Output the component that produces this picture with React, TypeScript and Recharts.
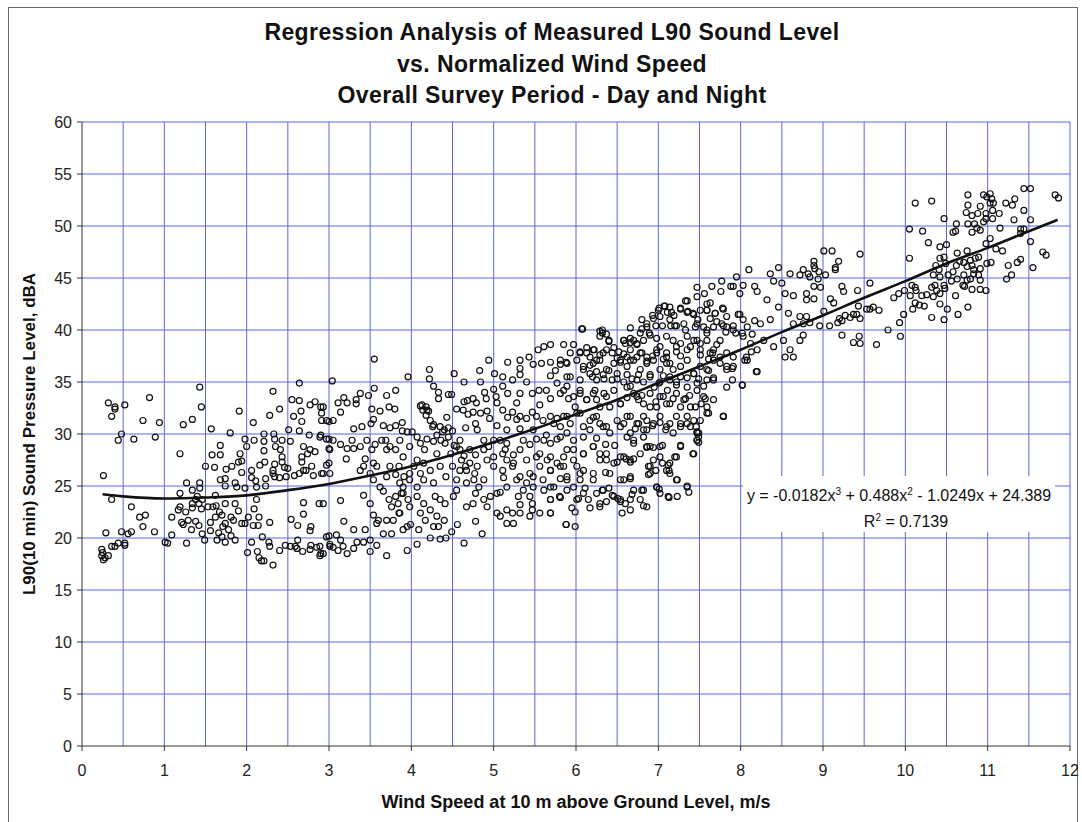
import {
  CartesianGrid,
  ComposedChart,
  Line,
  Scatter,
  XAxis,
  YAxis,
} from "recharts";

// measured L90 points, [wind speed m/s, dBA] in bands
const lowWindPts: [number, number][] = [
  [0.32,33.0],[0.40,32.6],[0.40,32.4],[0.52,32.8],[0.36,31.7],[0.82,33.5],[1.43,34.5],[1.45,32.6],[0.74,31.3],[0.94,31.1],
  [1.23,30.9],[1.34,31.4],[0.48,30.0],[0.44,29.4],[0.63,29.5],[0.89,29.7],[1.19,28.1],[1.57,30.5],[1.91,32.2],[2.08,31.1],
  [2.32,34.1],[2.28,31.8],[2.40,32.4],[2.64,34.9],[2.55,33.3],[2.64,33.2],[2.77,32.8],[2.83,33.1],[2.90,32.6],[2.91,32.0],
  [2.91,31.3],[2.57,31.7],[2.66,32.2],[2.67,31.2],[3.0,31.2],[2.51,30.4],[2.64,30.3],[2.76,29.9],[2.90,29.9],[3.0,29.5],
  [1.80,30.1],[1.98,29.5],[2.0,28.8],[2.09,29.4],[2.21,30.0],[2.21,29.3],[2.33,30.0],[2.34,29.5],[2.43,29.4],[2.53,29.3],
  [2.35,28.8],[2.41,28.5],[2.43,27.8],[2.21,28.4],[2.69,28.8],[2.77,28.5],[2.67,27.8],[2.74,28.1],[2.83,28.3],[3.0,28.6],
  [1.68,28.9],[1.68,28.0],[1.58,28.0],[1.92,28.1],[1.94,27.4],[1.90,27.3],[2.22,27.3],[2.06,26.5],[2.16,27.0],[2.34,27.1],
  [2.43,27.3],[2.32,26.2],[2.46,26.8],[2.50,26.7],[2.67,27.3],[2.72,26.5],[2.79,26.9],[3.0,27.2],[1.50,26.9],[1.61,26.8],
  [1.75,26.6],[1.82,26.9],[1.94,26.3],[2.06,25.8],[2.11,25.5],[2.23,25.7],[2.34,25.9],[2.32,26.5],[2.40,25.8],[2.48,25.9],
  [2.58,26.0],[2.64,26.2],[2.69,26.5],[2.81,26.0],[2.91,26.2],[0.26,26.0],[1.27,25.3],[1.34,24.6],[1.43,25.3],[1.43,24.8],
  [1.40,24.0],[1.38,23.7],[1.42,23.3],[1.45,22.8],[1.34,23.3],[1.19,24.3],[1.19,23.0],[1.17,22.7],[1.26,22.5],[1.34,22.9],
  [1.46,23.7],[1.53,23.0],[1.59,23.0],[1.62,24.1],[1.63,23.1],[1.67,22.5],[1.74,23.3],[1.68,25.6],[1.74,25.7],[1.74,25.0],
  [1.86,25.3],[1.88,24.9],[1.98,24.8],[2.12,24.9],[2.23,25.0],[1.86,23.3],[1.90,22.6],[1.81,22.0],[1.74,21.4],[1.71,21.1],
  [1.78,20.8],[1.81,20.2],[1.70,20.1],[1.66,20.5],[1.64,19.8],[1.74,19.6],[1.86,19.8],[1.98,21.4],[2.02,22.0],[2.09,22.8],
  [2.12,23.7],[2.15,22.0],[2.08,21.2],[2.14,21.2],[2.28,21.5],[2.19,20.1],[2.27,19.6],[2.06,19.6],[2.01,18.6],[2.13,18.7],
  [2.15,18.1],[2.18,17.8],[2.21,17.8],[2.32,17.4],[2.28,19.2],[2.40,18.8],[2.47,19.3],[2.53,19.2],[2.59,19.2],[2.61,19.0],
  [2.68,18.7],[2.78,19.3],[2.77,18.9],[2.85,19.1],[2.90,18.5],[2.89,18.3],[3.01,19.2],[3.0,20.2],[2.69,23.4],[2.69,22.3],
  [2.88,23.3],[2.54,21.8],[2.62,21.2],[2.78,21.1],[2.77,20.7],[2.62,19.8],[0.36,23.7],[0.60,23.0],[0.70,22.0],[0.77,22.2],
  [0.74,21.1],[0.29,20.5],[0.48,20.6],[0.56,20.4],[0.60,20.6],[0.88,20.6],[1.09,22.0],[1.09,20.3],[1.01,19.6],[1.04,19.5],
  [1.27,19.5],[1.49,19.8],[1.21,21.5],[1.23,21.3],[1.29,21.7],[1.33,20.8],[1.38,21.6],[1.42,21.2],[1.46,20.4],[1.56,21.5],
  [1.56,20.7],[1.62,22.0],[1.70,22.2],[1.84,21.7],[1.94,21.4],[0.36,19.2],[0.40,19.2],[0.44,19.5],[0.52,19.5],[0.52,19.3],
  [0.24,18.9],[0.25,18.6],[0.24,18.3],[0.26,17.9],[0.28,18.1],[0.32,18.3],
];

const midWindPts: [number, number][] = [
  [3.55,37.2],[3.04,35.1],[3.96,35.5],[4.22,36.2],[4.22,35.3],[4.52,35.8],[4.83,36.1],[4.94,37.1],[5.01,35.8],[5.17,36.9],
  [5.32,37.1],[5.32,36.3],[5.32,35.7],[5.43,37.4],[5.48,36.7],[5.54,38.1],[5.61,38.4],[5.69,38.6],[5.58,36.8],[5.69,36.9],
  [5.81,36.7],[5.88,36.9],[5.75,36.1],[5.69,35.6],[5.89,35.5],[5.11,35.5],[5.23,35.2],[5.40,35.0],[4.64,35.0],[4.84,35.0],
  [2.93,32.6],[3.11,33.0],[3.18,33.5],[3.22,33.0],[3.33,33.3],[3.33,32.9],[3.38,33.9],[3.48,33.7],[3.55,34.4],[3.52,32.4],
  [3.70,33.7],[3.81,34.2],[3.73,32.6],[3.80,32.4],[4.13,32.8],[4.27,34.6],[4.33,34.0],[4.45,33.8],[4.49,33.8],[4.33,33.4],
  [4.19,32.3],[4.64,33.1],[4.68,33.2],[4.75,33.4],[4.89,34.0],[4.91,33.4],[5.0,34.3],[5.03,33.6],[5.11,34.6],[5.17,33.9],
  [5.28,33.0],[5.32,33.9],[5.47,33.9],[5.55,34.2],[5.64,34.2],[5.77,34.9],[5.85,34.2],[5.91,33.4],[5.69,33.4],[5.56,32.8],
  [5.04,33.0],[4.79,33.0],[2.97,31.3],[3.05,31.3],[3.14,32.1],[3.30,30.5],[3.40,30.7],[3.51,31.0],[3.54,31.4],[3.62,32.2],
  [3.66,30.8],[3.74,30.6],[3.81,30.8],[3.89,31.1],[3.89,30.3],[3.95,30.2],[4.01,30.2],[4.11,32.7],[4.14,32.3],[4.18,31.8],
  [4.23,31.3],[4.27,30.9],[4.35,30.7],[4.38,30.2],[4.43,31.6],[4.45,30.6],[4.50,30.3],[4.55,32.4],[4.63,32.3],[4.69,31.9],
  [4.75,32.1],[4.84,32.0],[4.78,31.0],[4.92,32.2],[4.95,31.5],[5.04,30.8],[5.11,32.3],[5.17,31.6],[5.23,32.1],[5.28,31.4],
  [5.32,31.7],[5.40,31.5],[5.47,32.1],[5.52,31.7],[5.60,31.3],[5.69,31.7],[5.77,31.5],[5.89,31.7],[4.80,30.4],[4.66,30.6],
  [5.16,30.4],[5.32,30.5],[5.48,30.4],[5.64,29.9],[5.81,29.7],[2.89,29.7],[2.97,29.5],[3.14,29.0],[3.22,28.6],[3.30,28.6],
  [3.21,27.6],[3.44,27.6],[3.52,28.5],[3.56,29.0],[3.69,29.4],[3.74,28.8],[3.81,28.5],[3.86,29.4],[3.90,27.8],[3.98,28.8],
  [4.07,29.7],[4.11,29.1],[4.16,28.5],[4.19,29.5],[4.27,29.3],[4.31,28.1],[4.41,29.1],[4.48,28.1],[4.55,28.8],[4.59,29.4],
  [4.64,27.9],[4.71,28.5],[4.78,28.0],[4.88,29.4],[4.88,28.5],[5.0,29.4],[5.0,27.8],[5.11,28.1],[5.16,29.1],[5.24,28.0],
  [5.32,28.5],[5.36,29.4],[5.44,29.0],[5.52,29.5],[5.56,28.1],[5.69,29.1],[5.77,29.5],[5.69,27.8],[5.89,28.5],[2.93,26.2],
  [3.01,26.2],[2.97,27.0],[3.38,26.5],[3.42,26.9],[3.54,27.2],[3.58,26.9],[3.50,26.2],[3.70,25.9],[3.81,26.1],[3.86,25.3],
  [3.91,25.9],[3.98,26.2],[4.03,26.9],[4.07,27.5],[4.11,26.2],[4.15,27.2],[4.15,25.6],[4.23,26.5],[4.27,25.3],[4.35,26.9],
  [4.42,25.9],[4.50,26.9],[4.55,25.6],[4.59,26.5],[4.66,26.9],[4.67,25.3],[4.77,26.2],[4.88,25.6],[5.0,26.9],[5.11,26.5],
  [5.12,25.8],[5.24,27.2],[5.28,25.6],[5.40,27.5],[5.44,26.2],[5.56,26.9],[5.69,26.5],[5.81,26.9],[5.89,25.6],[5.48,24.9],
  [5.60,25.6],[2.93,23.3],[3.14,23.6],[3.42,24.1],[3.50,23.3],[3.66,24.5],[3.73,23.7],[3.76,23.0],[3.84,23.3],[3.85,22.4],
  [3.90,24.3],[3.96,23.7],[3.98,23.0],[4.07,24.0],[4.15,23.3],[4.23,22.7],[4.29,24.0],[4.35,23.7],[4.41,23.3],[4.51,24.0],
  [4.55,24.6],[4.67,23.0],[4.75,23.3],[4.78,24.3],[4.88,23.7],[4.92,23.0],[4.96,24.0],[5.04,24.3],[5.08,24.4],[5.16,22.7],
  [5.23,22.4],[5.32,23.2],[5.44,24.0],[5.47,23.3],[5.56,22.4],[5.69,22.4],[5.80,24.0],[5.89,24.6],[2.97,20.1],[3.09,20.3],
  [3.14,19.8],[3.18,21.6],[3.30,20.8],[3.44,20.8],[3.50,19.8],[3.54,22.2],[3.58,21.4],[3.60,21.7],[3.66,20.4],[3.70,21.7],
  [3.76,20.4],[3.78,21.7],[3.86,22.4],[3.90,20.8],[3.95,21.1],[3.99,21.3],[4.09,20.8],[4.23,20.0],[4.27,21.1],[4.35,19.9],
  [4.42,20.0],[4.49,20.6],[4.56,21.3],[4.64,19.5],[4.78,21.6],[4.86,20.4],[5.04,22.4],[5.08,22.1],[5.16,21.4],[5.24,21.4],
  [5.32,22.4],[5.47,22.7],[5.88,21.3],[2.89,19.2],[2.93,18.5],[3.01,19.4],[3.05,19.1],[3.11,18.8],[3.17,19.2],[3.22,18.5],
  [3.30,19.0],[3.34,19.6],[3.42,19.6],[3.50,18.7],[3.58,19.3],[3.70,18.3],[3.95,18.8],[4.07,19.4],
];

const midFillPts: [number, number][] = [
  [4.18,32.6],[4.21,32.2],[4.26,30.7],[4.31,29.9],[4.36,29.4],[4.40,30.4],[4.45,29.7],[4.52,28.9],[4.59,28.5],[4.61,27.5],
  [4.67,26.5],[4.71,27.2],[4.76,25.6],[4.82,24.9],[4.80,26.9],[4.92,27.5],[4.94,28.8],[5.08,29.4],[5.14,28.5],[5.16,27.5],
  [5.23,26.9],[5.32,25.9],[5.40,25.3],[5.48,25.9],[5.52,27.8],[5.61,29.4],[5.73,31.0],[5.81,30.7],[5.89,30.1],[3.70,28.5],
  [3.64,29.4],[3.46,29.4],[3.38,28.8],[3.28,29.4],[3.05,29.4],[3.01,28.5],[3.54,25.6],[3.62,24.9],[3.98,25.6],[3.90,24.9],
  [4.07,24.9],[3.85,26.9],[3.74,26.9],[3.81,24.0],[3.88,24.3],[4.11,22.4],[4.17,21.7],[4.31,22.1],[4.40,21.7],[4.33,21.1],
  [5.16,24.9],[5.30,24.0],[5.36,24.6],[5.44,22.1],[5.69,23.7],[5.73,24.9],
];

const midLowPts: [number, number][] = [
  [5.61,24.6],[5.69,24.9],[5.81,23.9],[5.69,23.7],[5.69,22.4],[5.95,22.9],[5.99,22.5],[5.88,21.3],[5.99,21.1],[6.03,23.8],
  [6.15,23.7],[6.17,22.9],[6.25,24.3],[6.29,23.0],[6.32,24.6],[6.40,24.8],[6.37,23.5],[6.44,24.1],[6.51,23.8],[6.54,23.5],
  [6.56,22.4],[6.60,23.3],[6.66,23.7],[6.66,22.7],[6.68,24.2],[6.82,23.1],[6.86,23.0],[6.80,24.6],[6.98,24.9],[7.01,24.7],
  [7.13,23.9],[7.23,24.0],[7.35,25.0],[7.37,24.4],[7.23,25.6],[6.05,25.6],[6.11,24.8],[7.13,26.5],[7.12,27.0],[7.20,27.8],
  [6.88,26.9],[6.88,26.1],[6.97,26.5],[7.05,27.2],[7.27,28.8],[7.42,28.1],[7.49,29.2],[7.49,29.7],[7.47,30.2],[7.79,31.7],
  [6.86,28.7],[6.94,28.7],[7.05,28.9],[6.50,27.3],[6.54,27.8],[6.61,27.6],[6.66,27.3],[6.70,27.6],[6.37,27.5],[6.29,28.1],
  [6.21,28.8],[6.09,28.1],[5.97,28.5],[6.01,26.9],[6.09,26.5],[6.21,26.2],[6.36,26.3],[6.54,25.6],[6.66,25.7],[5.69,26.5],
  [5.77,27.2],[5.81,25.7],[5.65,27.5],
];

const upperMidPts: [number, number][] = [
  [8.10,45.8],[8.46,46.0],[8.36,45.4],[8.40,44.7],[8.60,45.4],[8.72,45.3],[8.82,45.4],[7.95,45.1],[8.03,44.3],[8.17,44.2],
  [7.91,44.2],[7.77,44.7],[7.88,44.2],[7.47,44.1],[7.65,44.2],[7.56,43.5],[7.76,43.7],[7.99,43.5],[8.20,43.7],[8.32,42.9],
  [8.54,43.5],[8.64,43.3],[8.80,43.5],[8.50,44.5],[7.63,42.6],[7.35,42.8],[7.47,43.2],[7.01,42.1],[7.08,42.3],[7.16,41.7],
  [7.27,42.0],[7.36,41.8],[7.42,41.6],[7.51,41.9],[7.59,41.9],[7.69,41.6],[7.78,42.1],[7.83,41.3],[7.97,41.5],[8.03,41.0],
  [8.08,40.3],[8.24,40.6],[8.36,41.0],[8.46,42.2],[8.58,41.6],[8.64,40.6],[8.72,41.3],[8.80,42.9],[6.80,41.0],[6.86,40.6],
  [6.94,41.1],[7.02,41.3],[7.14,41.0],[7.20,40.4],[7.31,40.6],[7.47,40.6],[7.55,40.3],[7.63,41.1],[7.71,40.8],[7.79,40.4],
  [7.91,40.0],[7.59,40.0],[6.66,40.2],[6.07,40.1],[6.32,40.0],[6.29,39.4],[6.40,39.0],[6.58,39.0],[6.66,39.2],[6.74,38.7],
  [6.82,39.0],[6.90,39.5],[6.98,39.2],[7.02,38.4],[7.10,39.4],[7.18,39.0],[7.27,38.7],[7.35,38.1],[7.43,39.0],[7.51,38.7],
  [7.59,39.0],[7.67,38.1],[7.75,39.0],[7.83,37.8],[7.91,37.4],[8.03,39.4],[8.12,38.7],[8.20,38.1],[8.28,39.0],[8.40,38.4],
  [8.52,39.0],[8.60,38.1],[8.72,39.0],[8.54,37.4],[8.64,37.4],[8.08,37.1],[5.85,38.6],[5.97,38.6],[5.93,37.8],[6.05,37.9],
  [6.13,38.3],[6.21,38.1],[6.17,37.4],[6.33,37.8],[6.46,38.3],[6.52,37.9],[6.62,37.4],[6.78,37.8],[6.86,37.4],[6.98,37.8],
  [7.10,37.4],[7.22,37.9],[7.51,37.6],[7.63,37.8],[5.81,37.1],[5.89,36.8],[6.01,37.1],[6.09,36.5],[6.21,36.8],[6.29,37.1],
  [6.37,36.2],[6.46,36.8],[6.54,37.1],[6.62,36.5],[6.70,37.1],[6.78,36.2],[6.86,36.8],[6.94,37.1],[7.02,36.2],[7.10,36.8],
  [7.18,36.2],[7.27,36.5],[7.35,37.1],[7.43,35.8],[7.51,36.5],[7.59,36.2],[7.67,37.1],[7.75,36.8],[7.83,36.2],[7.91,36.5],
  [7.90,35.2],[8.20,36.0],[8.02,34.7],[5.93,35.5],[6.05,35.2],[6.17,35.8],[6.25,35.2],[6.33,35.7],[6.50,35.3],[6.62,35.7],
  [6.74,35.2],[6.90,35.7],[7.02,35.0],[7.14,35.5],[7.22,35.0],[7.35,35.4],[7.47,34.9],[7.59,35.2],[7.67,35.4],[5.81,33.9],
  [5.89,34.6],[5.97,33.6],[6.05,34.2],[6.13,33.3],[6.21,33.9],[6.29,32.6],[6.37,33.6],[6.46,34.2],[6.54,32.9],[6.66,34.6],
  [6.74,33.6],[6.82,32.9],[6.90,33.9],[6.98,32.6],[7.06,33.6],[7.14,32.9],[7.22,33.9],[7.31,33.3],[7.39,32.6],[7.47,34.2],
  [7.55,33.6],[7.59,32.6],[7.67,33.3],[5.99,32.6],[5.85,31.7],[5.93,31.0],[6.01,32.0],[6.09,30.7],[6.17,31.3],[6.25,31.7],
  [6.33,30.7],[6.41,30.1],[6.54,30.7],[6.62,31.7],[6.66,30.1],[6.74,31.0],[6.82,31.7],[6.86,30.4],[6.94,31.0],[7.02,31.7],
  [7.10,30.7],[7.18,30.1],[7.27,31.0],[7.35,31.7],[7.39,30.7],[7.47,30.1],[7.51,31.3],[7.59,32.0],[7.79,31.7],[6.82,29.7],
  [5.85,27.8],[5.97,29.4],[5.97,27.5],[6.09,28.1],[6.21,28.8],[6.29,27.5],[6.37,28.1],[6.46,27.2],[6.58,27.8],[6.66,27.5],
  [6.70,29.1],[6.78,28.1],[6.90,28.8],[6.94,27.5],[7.02,27.8],[7.14,27.2],[7.22,27.8],[7.43,28.1],[7.47,29.4],[6.90,26.9],
  [5.89,25.9],[5.97,24.9],[6.05,26.2],[6.09,24.3],[6.21,25.6],[6.33,24.6],[6.41,26.2],[6.58,25.6],[6.66,25.9],[6.70,24.6],
  [6.78,23.7],[6.82,24.6],[6.90,26.2],[6.98,24.9],[7.02,24.3],[7.10,26.5],[7.14,26.2],[7.22,25.6],[7.12,24.0],[7.35,24.9],
  [6.01,23.7],[6.29,23.3],[6.46,24.0],[6.54,23.7],[5.85,26.9],
];

const denseCorePts: [number, number][] = [
  [6.08,40.1],[6.29,39.9],[6.32,39.7],[6.37,39.6],[6.40,38.9],[6.58,39.0],[6.60,38.7],[6.66,38.8],[6.70,39.0],[6.66,38.1],
  [6.74,38.6],[6.78,39.7],[6.80,40.1],[6.86,40.3],[6.89,39.7],[6.93,41.4],[7.00,41.9],[7.07,42.3],[7.11,41.7],[7.14,42.2],
  [7.19,41.4],[7.27,42.1],[7.35,41.7],[7.33,42.8],[7.43,41.5],[7.48,41.0],[7.59,42.5],[7.59,41.9],[7.69,41.6],[7.79,42.0],
  [7.99,41.5],[8.17,40.9],[6.97,40.4],[7.05,40.4],[7.15,40.4],[7.22,40.4],[7.33,40.0],[7.45,40.3],[7.59,39.7],[7.67,40.3],
  [7.77,40.6],[7.83,40.3],[7.91,40.4],[7.82,39.8],[7.94,39.7],[8.02,39.7],[8.14,39.6],[6.05,37.8],[6.13,37.8],[6.22,38.1],
  [6.25,37.1],[6.29,37.6],[6.37,38.1],[6.44,37.8],[6.50,37.3],[6.54,36.9],[6.58,37.7],[6.66,37.1],[6.74,37.4],[6.80,37.8],
  [6.86,37.0],[6.93,37.5],[6.98,38.1],[7.06,37.2],[7.10,37.8],[7.14,36.8],[7.22,38.4],[7.27,37.5],[7.35,39.4],[7.39,38.4],
  [7.47,39.0],[7.51,38.1],[7.61,37.2],[7.66,37.8],[7.71,38.6],[7.75,37.4],[7.83,36.5],[7.90,36.3],[8.05,37.1],[8.07,37.4],
  [8.13,37.9],[8.19,36.0],[6.09,36.2],[6.17,36.6],[6.20,35.5],[6.25,36.0],[6.34,35.3],[6.40,36.1],[6.44,35.2],[6.50,35.8],
  [6.58,35.0],[6.62,34.5],[6.68,35.3],[6.76,35.7],[6.82,35.0],[6.90,35.5],[6.95,34.5],[7.01,34.9],[7.06,35.6],[7.11,34.2],
  [7.14,35.2],[7.22,34.7],[7.27,35.5],[7.35,34.5],[7.43,35.8],[7.49,35.3],[7.55,34.6],[7.61,36.1],[7.67,35.2],[7.83,34.5],
  [8.02,34.7],[6.05,33.9],[6.13,33.3],[6.23,34.2],[6.25,33.3],[6.34,33.9],[6.41,32.6],[6.54,32.9],[6.62,33.5],[6.70,33.9],
  [6.76,33.3],[6.80,33.7],[6.90,32.6],[6.97,33.1],[7.02,33.6],[7.10,32.9],[7.18,33.4],[7.27,32.6],[7.33,33.4],[7.38,33.7],
  [7.45,32.6],[7.52,32.9],[7.57,33.4],[7.61,32.0],[6.05,32.0],[6.21,31.6],[6.29,31.0],[6.37,30.7],[6.50,31.3],[6.58,31.0],
  [6.66,31.7],[6.72,30.5],[6.76,31.0],[6.82,30.4],[6.86,31.3],[6.93,30.8],[7.02,31.1],[7.09,30.4],[7.14,31.0],[7.22,31.7],
  [7.27,30.7],[7.35,31.0],[7.43,31.3],[7.46,30.7],[7.49,30.1],[6.09,29.7],[6.17,30.4],[6.25,29.6],[6.36,29.0],[6.47,28.9],
  [6.62,29.7],[6.70,29.4],[6.86,28.8],[7.02,28.8],[7.27,28.9],[7.47,29.4],[7.79,31.7],
];

const highWindPts: [number, number][] = [
  [11.44,53.6],[11.52,53.6],[11.82,53.0],[11.86,52.7],[10.76,53.0],[10.95,53.0],[11.03,53.1],[10.99,52.8],[11.05,52.6],[11.03,52.2],
  [11.07,52.2],[10.12,52.2],[10.32,52.4],[10.91,51.9],[10.76,52.0],[11.22,52.2],[11.30,52.0],[11.33,52.6],[10.74,51.3],[10.81,51.0],
  [10.88,51.2],[10.98,51.2],[11.06,51.5],[11.14,51.2],[10.98,50.7],[10.95,50.4],[11.06,50.7],[11.44,51.5],[11.52,50.6],[11.32,50.6],
  [10.47,50.7],[10.62,50.2],[10.76,50.2],[10.84,50.2],[10.91,49.6],[10.81,49.4],[10.58,49.4],[10.61,49.5],[11.15,49.8],[10.87,49.8],
  [10.05,49.7],[10.21,49.5],[11.40,49.7],[11.44,49.7],[11.40,49.3],[11.03,48.8],[11.52,48.5],[10.28,48.4],[10.42,48.0],[10.50,48.2],
  [10.98,48.3],[11.10,47.8],[11.18,47.6],[11.67,47.5],[11.71,47.2],[10.63,47.4],[10.75,47.6],[10.42,46.9],[10.47,47.0],[10.66,46.6],
  [10.71,46.5],[10.79,46.7],[10.85,46.9],[10.89,47.0],[10.05,46.9],[10.49,46.4],[10.62,46.2],[10.75,46.1],[10.81,46.2],[10.83,45.8],
  [10.91,45.9],[10.99,46.4],[11.04,46.5],[11.25,46.2],[11.36,46.5],[11.40,46.8],[11.55,46.0],[10.37,46.2],[10.41,45.8],[10.34,45.3],
  [10.42,45.1],[10.52,45.3],[10.58,45.6],[10.56,44.7],[10.63,44.9],[10.71,45.3],[10.75,44.8],[10.79,44.9],[10.83,45.4],[10.89,45.3],
  [10.91,44.8],[11.23,44.9],[11.29,45.3],[10.70,44.3],[10.72,44.2],[10.81,43.9],[10.91,43.9],[10.98,43.8],[10.47,44.3],[10.48,44.0],
  [10.36,44.3],[10.32,44.1],[10.38,43.8],[10.42,43.5],[10.34,43.2],[10.26,43.4],[10.20,43.3],[10.12,44.1],[10.08,44.3],[10.13,43.8],
  [10.06,43.3],[9.92,43.5],[9.99,43.8],[9.86,43.1],[10.12,42.6],[10.17,42.4],[10.23,42.3],[10.42,42.5],[10.51,42.0],[10.61,43.3],
  [10.76,42.2],[10.09,42.0],[9.98,41.5],[9.93,40.7],[9.94,39.4],[9.79,40.0],[9.65,38.6],[10.32,41.2],[10.47,41.0],[10.64,41.5],
  [9.57,44.5],[9.45,47.3],[9.19,46.6],[9.15,46.0],[9.15,45.8],[9.11,47.6],[9.01,47.6],[8.89,46.6],[8.89,46.2],[8.90,45.9],
  [8.95,45.6],[9.03,45.3],[8.76,45.8],[8.84,45.1],[8.94,44.9],[9.23,44.2],[9.25,43.7],[8.89,44.2],[8.97,44.1],[8.89,43.0],
  [9.09,43.0],[9.13,42.6],[9.42,43.8],[9.43,42.3],[9.57,42.0],[9.61,42.2],[9.68,41.9],[9.53,42.0],[9.37,41.5],[9.33,41.2],
  [9.27,41.4],[9.20,41.1],[9.18,40.7],[9.23,40.9],[9.41,41.5],[9.45,41.1],[9.01,41.8],[8.80,41.3],[8.76,40.6],[8.84,40.7],
  [8.96,40.4],[9.08,40.4],[9.23,39.5],[9.37,38.8],[9.45,38.7],[9.44,39.4],[8.76,39.5],
];

// trend line
const trendX = [0.25, 0.5, 1, 1.5, 2, 2.5, 3, 3.5, 4, 4.5, 5, 5.5, 6, 6.5, 7, 7.5, 8, 8.5, 9, 9.5, 10, 10.5, 11, 11.5, 11.85];
const trendY = [24.2, 24.0, 23.8, 23.9, 24.1, 24.6, 25.2, 26.0, 26.9, 28.0, 29.2, 30.5, 31.9, 33.3, 34.9, 36.5, 38.1, 39.8, 41.4, 43.1, 44.7, 46.4, 47.9, 49.5, 50.6];

const xTicks = [0, 1, 2, 3, 4, 5, 6, 7, 8, 9, 10, 11, 12];
const yTicks = [0, 5, 10, 15, 20, 25, 30, 35, 40, 45, 50, 55, 60];
const xGrid = [0.5, 1, 1.5, 2, 2.5, 3, 3.5, 4, 4.5, 5, 5.5, 6, 6.5, 7, 7.5, 8, 8.5, 9, 9.5, 10, 10.5, 11, 11.5, 12];
const yGrid = [5, 10, 15, 20, 25, 30, 35, 40, 45, 50, 55, 60];

const points = [
  ...lowWindPts,
  ...midWindPts,
  ...midFillPts,
  ...midLowPts,
  ...upperMidPts,
  ...denseCorePts,
  ...highWindPts,
].map(([x, y]) => ({ x, y }));
const trend = trendX.map((x, i) => ({ x, y: trendY[i] }));

const font = "'Liberation Sans', Arial, sans-serif";
const gridBlue = "#5a66d8";

const Ring = (props: any) => {
  const { cx, cy } = props;
  if (cx == null || cy == null) return null;
  return <circle cx={cx} cy={cy} r={3} fill="none" stroke="#111" strokeWidth={1.2} />;
};

export default function App() {
  const tickStyle = { fill: "#222", fontSize: 16, fontFamily: font };
  const sup = { fontSize: 10 };
  return (
    <div
      style={{
        position: "absolute",
        left: 0,
        top: 0,
        width: 1082,
        height: 822,
        background: "#fff",
        overflow: "hidden",
        fontFamily: font,
      }}
    >
      <div
        style={{
          position: "absolute",
          left: 8,
          top: 7,
          width: 1070,
          height: 830,
          border: "1px solid #666",
          boxSizing: "border-box",
        }}
      />
      <div
        style={{
          position: "absolute",
          left: 0,
          width: 1104,
          top: 17,
          textAlign: "center",
          fontWeight: "bold",
          fontSize: 23,
          letterSpacing: 0.4,
          lineHeight: "31.5px",
          color: "#111",
        }}
      >
        <div>Regression Analysis of Measured L90 Sound Level</div>
        <div>vs. Normalized Wind Speed</div>
        <div>Overall Survey Period - Day and Night</div>
      </div>

      <ComposedChart
        width={1082}
        height={822}
        margin={{ top: 122, right: 12, bottom: 46, left: 22 }}
        style={{ position: "absolute", left: 0, top: 0 }}
      >
        <CartesianGrid
          stroke={gridBlue}
          strokeWidth={1}
          verticalValues={xGrid}
          horizontalValues={yGrid}
        />
        <XAxis
          type="number"
          dataKey="x"
          domain={[0, 12]}
          ticks={xTicks}
          allowDataOverflow
          height={30}
          stroke="#333"
          tickSize={5}
          tickMargin={14}
          tick={tickStyle}
        />
        <YAxis
          type="number"
          dataKey="y"
          domain={[0, 60]}
          ticks={yTicks}
          allowDataOverflow
          width={60}
          stroke="#333"
          tickSize={5}
          tickMargin={5}
          tick={tickStyle}
        />
        <Scatter data={points} shape={Ring} isAnimationActive={false} />
        <Line
          data={trend}
          dataKey="y"
          type="monotone"
          stroke="#111"
          strokeWidth={2.6}
          dot={false}
          activeDot={false}
          isAnimationActive={false}
        />
      </ComposedChart>

      <div
        style={{
          position: "absolute",
          left: 743,
          top: 476,
          width: 312,
          height: 56,
          background: "#fff",
          textAlign: "center",
          fontSize: 16,
          lineHeight: "22px",
          color: "#111",
          paddingTop: 5,
          boxSizing: "border-box",
          whiteSpace: "nowrap",
        }}
      >
        <div>
          y = -0.0182x<sup style={sup}>3</sup> + 0.488x<sup style={sup}>2</sup> - 1.0249x + 24.389
        </div>
        <div style={{ paddingLeft: 14 }}>
          R<sup style={sup}>2</sup> = 0.7139
        </div>
      </div>

      <div
        style={{
          position: "absolute",
          left: 326,
          width: 500,
          top: 792,
          textAlign: "center",
          fontWeight: "bold",
          fontSize: 18,
          color: "#111",
        }}
      >
        Wind Speed at 10 m above Ground Level, m/s
      </div>
      <div
        style={{
          position: "absolute",
          left: 30 - 220,
          top: 434 - 11,
          width: 440,
          textAlign: "center",
          fontWeight: "bold",
          fontSize: 17,
          lineHeight: "22px",
          color: "#111",
          transform: "rotate(-90deg)",
        }}
      >
        L90(10 min) Sound Pressure Level, dBA
      </div>
    </div>
  );
}
